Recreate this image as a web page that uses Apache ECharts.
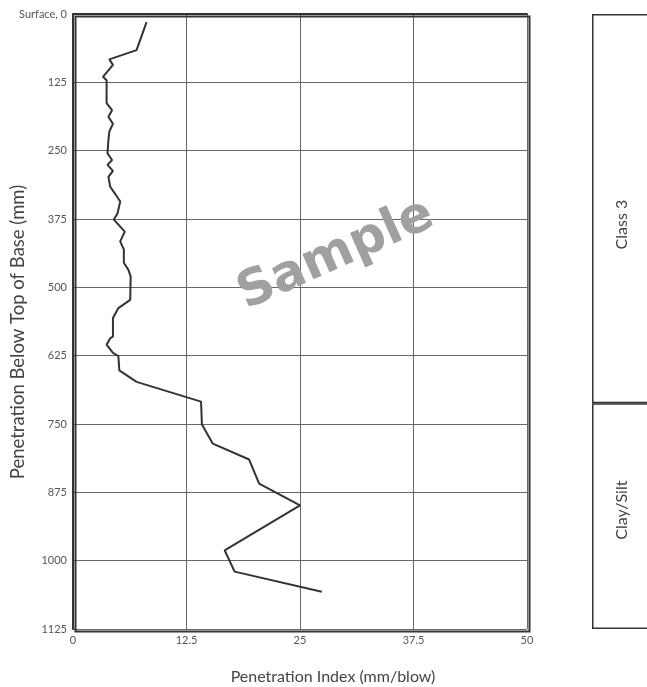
<!DOCTYPE html>
<html>
<head>
<meta charset="utf-8">
<script src="https://cdn.jsdelivr.net/npm/echarts@6/dist/echarts.min.js"></script>
<style>
html,body{margin:0;padding:0;background:#fff;}
#chart{width:647px;height:687px;}
</style>
</head>
<body>
<div id="chart"></div>
<script>
// Depth below top of base (mm) and penetration index (mm/blow)
const depthMm = [15,66,83,93,115,121,163,176,188,201,215,231,255,267,276,287,298,316,328,343,365,376,398,416,431,455,468,480,523,538,556,590,593,605,620,626,652,673,709,751,786,815,859,899,981,1020,1057];
const penIndex = [8.1,7.0,4.0,4.4,3.3,3.7,3.7,4.3,3.9,4.4,4.0,3.9,3.8,4.3,3.8,4.4,3.9,4.1,4.6,5.2,4.9,4.5,5.7,5.2,5.6,5.6,6.1,6.35,6.3,5.0,4.4,4.4,4.1,3.7,4.4,5.0,5.1,7.0,14.1,14.2,15.4,19.4,20.5,25.0,16.7,17.8,27.4];
const xTicks = [0,12.5,25,37.5,50];
const yTicks = [0,125,250,375,500,625,750,875,1000,1125];
const layerNames = ['Class 3','Clay/Silt'];
const layerThickness = [712,413];
const xTitle = 'Penetration Index (mm/blow)';
const yTitle = 'Penetration Below Top of Base (mm)';

const FONT = 'Lato, "Open Sans", sans-serif';
const chart = echarts.init(document.getElementById('chart'), null, {renderer:'canvas'});
const lineData = depthMm.map((d,i)=>[penIndex[i], d]);

const layerSeries = layerNames.map((n,i)=>({
  type:'bar', name:n, stack:'soil', xAxisIndex:1, yAxisIndex:1,
  barWidth:'100%', silent:true,
  data:[layerThickness[i]],
  itemStyle:{color:'#fff', borderColor:'#333', borderWidth:1.5},
  label:{show:true, position:'inside', rotate:90, formatter:n,
         offset: i===0 ? [-16,0] : [6,0],
         color:'#444', fontSize:16, fontFamily:FONT}
}));

chart.setOption({
  animation:false,
  backgroundColor:'#fff',
  grid:[
    {left:73, top:14, right:120, bottom:58, outerBoundsMode:'none', containLabel:false},
    {left:592, top:14, width:60, bottom:58, outerBoundsMode:'none', containLabel:false}
  ],
  xAxis:[
    {type:'value', gridIndex:0, min:xTicks[0], max:xTicks[xTicks.length-1], interval:12.5,
     axisLine:{show:true, lineStyle:{color:'#333', width:2}},
     axisTick:{show:false},
     axisLabel:{color:'#555', fontSize:11, fontFamily:FONT, margin:6},
     splitLine:{show:true, lineStyle:{color:'#666', width:1}}},
    {type:'category', gridIndex:1, data:['layers'], show:false}
  ],
  yAxis:[
    {type:'value', gridIndex:0, inverse:true, min:yTicks[0], max:yTicks[yTicks.length-1], interval:125,
     axisLine:{show:true, lineStyle:{color:'#333', width:2}},
     axisTick:{show:false},
     axisLabel:{color:'#555', fontSize:11, fontFamily:FONT, margin:6,
       formatter:v=> v===0 ? 'Surface, 0' : String(v)},
     splitLine:{show:true, lineStyle:{color:'#666', width:1}}},
    {type:'value', gridIndex:1, inverse:true, min:0, max:1125, show:false}
  ],
  graphic:[
    {type:'rect', left:73, top:14, shape:{width:454, height:615}, z:5, silent:true,
     style:{fill:'none', stroke:'#333', lineWidth:2}},
    {type:'text', x:336, y:255, rotation:24*Math.PI/180, z:1, silent:true,
     style:{text:'Sample', fill:'#a0a0a0', font:'bold 50px "DejaVu Sans", sans-serif',
            align:'center', verticalAlign:'middle'}},
    {type:'text', x:333, y:677, silent:true,
     style:{text:xTitle, fill:'#444', font:'16px Lato, sans-serif', align:'center', verticalAlign:'middle'}},
    {type:'text', x:18, y:332, rotation:Math.PI/2, silent:true,
     style:{text:yTitle, fill:'#444', font:'18.5px Lato, sans-serif', align:'center', verticalAlign:'middle'}}
  ],
  series:[
    {type:'line', xAxisIndex:0, yAxisIndex:0, data:lineData, showSymbol:false, z:10,
     lineStyle:{color:'#333', width:2}},
    ...layerSeries
  ]
});
</script>
</body>
</html>
